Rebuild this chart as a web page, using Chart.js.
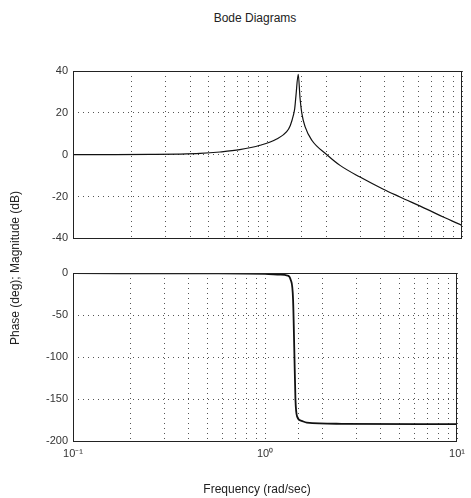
<!DOCTYPE html>
<html lang="en">
<head>
<meta charset="UTF-8">
<title>Bode Diagrams</title>
<script src="https://cdn.jsdelivr.net/npm/chart.js"></script>
<style>
    body {
        margin: 0;
        background: #fff;
        font-family: Arial, "Liberation Sans", sans-serif;
        color: #222;
    }
    #wrap {
        position: relative;
        width: 471px;
        height: 498px;
        overflow: hidden;
    }
    canvas {
        position: absolute;
        left: 0;
    }
    #magChart { top: 0; }
    #phaseChart { top: 250px; }
    .title {
        position: absolute;
        top: 11px;
        left: 0;
        width: 510px;
        text-align: center;
        font-size: 12px;
    }
    .xlabel {
        position: absolute;
        top: 482px;
        left: 0;
        width: 514px;
        text-align: center;
        font-size: 12px;
    }
    .ylabel {
        position: absolute;
        left: 15px;
        top: 268px;
        width: 200px;
        margin-left: -100px;
        margin-top: -7px;
        text-align: center;
        font-size: 12px;
        transform: rotate(-90deg);
        white-space: nowrap;
    }
</style>
</head>
<body>
<div id="wrap">
    <div class="title">Bode Diagrams</div>
    <canvas id="magChart" width="471" height="250"></canvas>
    <canvas id="phaseChart" width="471" height="248"></canvas>
    <div class="ylabel">Phase (deg); Magnitude (dB)</div>
    <div class="xlabel">Frequency (rad/sec)</div>
</div>
<script>
    // values
    const magFreq = [0.1, 0.15, 0.25, 0.35, 0.45, 0.57, 0.72, 0.915, 1.115, 1.255, 1.31, 1.36, 1.38, 1.40, 1.439, 1.47, 1.50, 1.56, 1.69, 2.02, 2.36, 2.99, 3.94, 4.8, 6.58, 8.01, 10];
    const magDb = [0, 0.05, 0.15, 0.3, 0.6, 1.3, 2.4, 4.5, 7.5, 11, 14, 19, 22, 28, 38.4, 27, 20, 13.4, 6.9, 0, -5.1, -10.7, -16.5, -20.2, -26, -29.8, -33.8];

    const phaseFreq = [0.1, 0.5, 1.0, 1.2, 1.31, 1.36, 1.40, 1.42, 1.44, 1.47, 1.55, 1.65, 2.5, 10];
    const phaseDeg = [-0.2, -0.5, -1, -2, -3, -8, -32, -90, -150, -171, -176, -178, -179.5, -180];

    const xTickLabels = ['10\u207B\u00B9', '10\u2070', '10\u00B9'];
    const magTicks = [-40, -20, 0, 20, 40];
    const phaseTicks = [-200, -150, -100, -50, 0];

    const frame = {
        id: 'frame',
        afterDraw(chart) {
            const a = chart.chartArea;
            const ctx = chart.ctx;
            ctx.save();
            ctx.strokeStyle = '#222';
            ctx.lineWidth = 1;
            ctx.strokeRect(Math.round(a.left) + 0.5, Math.round(a.top) + 0.5, Math.round(a.width) - 1, Math.round(a.height));
            ctx.restore();
        }
    };

    function makeChart(id, xs, ys, yMin, yMax, ticksY, showX, pad, xHeight, lineW) {
        const pts = xs.map((x, i) => ({x: x, y: ys[i]}));
        return new Chart(document.getElementById(id), {
            type: 'line',
            data: {
                datasets: [{
                    data: pts,
                    borderColor: '#111',
                    borderWidth: lineW,
                    pointRadius: 0,
                    cubicInterpolationMode: 'monotone',
                    fill: false
                }]
            },
            options: {
                responsive: false,
                animation: false,
                devicePixelRatio: 1,
                layout: { padding: pad },
                plugins: { legend: { display: false }, tooltip: { enabled: false } },
                scales: {
                    x: {
                        type: 'logarithmic',
                        min: 0.1,
                        max: 10,
                        grid: { color: '#555', lineWidth: 1, drawTicks: false },
                        border: { display: false, dash: [1, 4] },
                        ticks: {
                            display: showX,
                            autoSkip: false,
                            maxRotation: 0,
                            padding: 6,
                            color: '#333',
                            font: { family: 'Arial', size: 11 },
                            callback: (v) => {
                                const e = Math.log10(v);
                                return Math.abs(e - Math.round(e)) < 1e-6 ? xTickLabels[Math.round(e) + 1] : '';
                            }
                        },
                        afterFit: (s) => { s.height = xHeight; }
                    },
                    y: {
                        min: yMin,
                        max: yMax,
                        grid: { color: '#555', lineWidth: 1, drawTicks: false },
                        border: { display: false, dash: [1, 4] },
                        afterBuildTicks: (s) => {
                            s.ticks = ticksY.map(v => ({value: v}));
                        },
                        ticks: {
                            padding: 5,
                            color: '#333',
                            font: { family: 'Arial', size: 11 }
                        },
                        afterFit: (s) => { s.width = 73; }
                    }
                }
            },
            plugins: [frame]
        });
    }

    makeChart('magChart', magFreq, magDb, -40, 40, magTicks, false, {top: 71, bottom: 9, left: 0, right: 9}, 0, 1.2);
    makeChart('phaseChart', phaseFreq, phaseDeg, -200, 0, phaseTicks, true, {top: 23, bottom: 0, left: 0, right: 9}, 57, 1.8);
</script>
</body>
</html>
